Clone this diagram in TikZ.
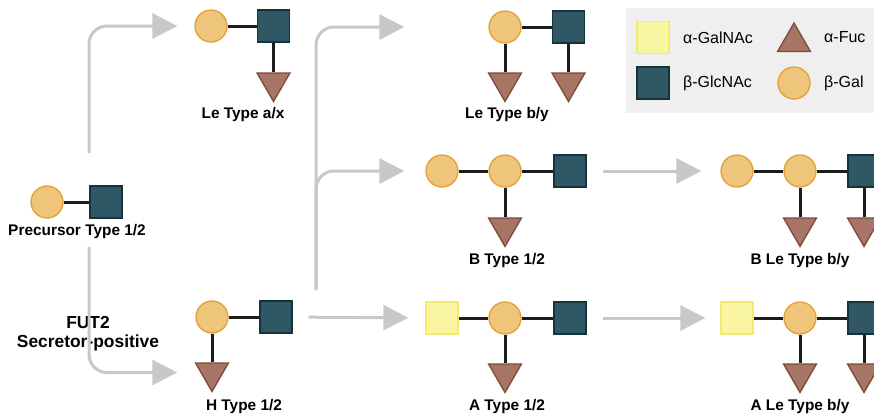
\documentclass[tikz,border=0pt]{standalone}
\usepackage{fontspec}
\setmainfont{Liberation Sans}
\usetikzlibrary{shapes.geometric,arrows.meta}
\definecolor{galfill}{HTML}{EEC57A}
\definecolor{galdraw}{HTML}{E2A036}
\definecolor{glcfill}{HTML}{2F5764}
\definecolor{glcdraw}{HTML}{16323B}
\definecolor{fucfill}{HTML}{A67565}
\definecolor{fucdraw}{HTML}{7E4A3A}
\definecolor{nacfill}{HTML}{F9F5A0}
\definecolor{nacdraw}{HTML}{F2EC6A}
\definecolor{arrgray}{HTML}{C8C8C8}
\definecolor{linkc}{HTML}{1C1C1C}
\definecolor{legbg}{HTML}{EFEFEF}
\tikzset{
  gal/.style={circle, minimum size=32pt, inner sep=0pt, fill=galfill, draw=galdraw, line width=1.3pt},
  glc/.style={rectangle, minimum size=32pt, inner sep=0pt, fill=glcfill, draw=glcdraw, line width=1.3pt},
  nac/.style={rectangle, minimum size=32pt, inner sep=0pt, fill=nacfill, draw=nacdraw, line width=1.3pt},
  fuc/.style={regular polygon, regular polygon sides=3, regular polygon rotate=180, minimum size=38pt, inner sep=0pt, fill=fucfill, draw=fucdraw, line width=1.3pt},
  fucup/.style={fuc, regular polygon rotate=0},
  link/.style={draw=linkc, line width=3pt},
  lbl/.style={font=\fontsize{15.4}{18}\selectfont\bfseries, inner sep=0pt},
  legtxt/.style={font=\fontsize{16}{19}\selectfont, anchor=west, inner sep=0pt},
  garrow/.style={draw=arrgray, line width=3pt, -{Triangle[length=25pt,width=25pt]}, rounded corners=18pt},
}
\begin{document}
\begin{tikzpicture}[x=1pt, y=-1pt]
\clip (0,0) rectangle (874,416);
\fill[white] (0,0) rectangle (874,416);
% legend
\fill[legbg] (626,8) rectangle (880,113);
\node[nac] (lgy) at (653,37.5) {};
\node[legtxt] (lgyt) at (683,37.5) {α-GalNAc};
\node[fucup] (lgf) at (794,42) {};
\node[legtxt] (lgft) at (824,37.5) {α-Fuc};
\node[glc] (lgs) at (653,83) {};
\node[legtxt] (lgst) at (683,83) {β-GlcNAc};
\node[gal] (lgc) at (794,83) {};
\node[legtxt] (lgct) at (824,83) {β-Gal};

% Precursor
\node[gal] (pc) at (47,202) {};
\node[glc] (ps) at (106,202) {};
\node[lbl] (pl) at (77,232) {Precursor Type 1/2};
\draw[link] (pc) -- (ps);

% Le a/x
\node[gal] (lac) at (211,26) {};
\node[glc] (las) at (273.5,26) {};
\node[fuc] (lat) at (273.5,82.5) {};
\node[lbl] (lal) at (243,115) {Le Type a/x};
\draw[link] (lac) -- (las);
\draw[link] (las) -- (lat);

% H
\node[gal] (hc) at (212,317) {};
\node[glc] (hs) at (276,317) {};
\node[fuc] (ht) at (212,372.5) {};
\node[lbl] (hl) at (244,407) {H Type 1/2};
\draw[link] (hc) -- (hs);
\draw[link] (hc) -- (ht);

% Le b/y
\node[gal] (lbc) at (505,27) {};
\node[glc] (lbs) at (568.5,27) {};
\node[fuc] (lbt1) at (505,82.5) {};
\node[fuc] (lbt2) at (568.5,82.5) {};
\node[lbl] (lbl) at (507,115) {Le Type b/y};
\draw[link] (lbc) -- (lbs);
\draw[link] (lbc) -- (lbt1);
\draw[link] (lbs) -- (lbt2);

% B
\node[gal] (bc1) at (442,171) {};
\node[gal] (bc2) at (505,171) {};
\node[glc] (bs) at (570,171) {};
\node[fuc] (bt) at (505,227.5) {};
\node[lbl] (bl) at (507,261) {B Type 1/2};
\draw[link] (bc1) -- (bc2);
\draw[link] (bc2) -- (bs);
\draw[link] (bc2) -- (bt);

% B Le
\node[gal] (blc1) at (737,171) {};
\node[gal] (blc2) at (800,171) {};
\node[glc] (bls) at (864,171) {};
\node[fuc] (blt1) at (800,227.5) {};
\node[fuc] (blt2) at (864,227.5) {};
\node[lbl] (bll) at (800,261) {B Le Type b/y};
\draw[link] (blc1) -- (blc2);
\draw[link] (blc2) -- (bls);
\draw[link] (blc2) -- (blt1);
\draw[link] (bls) -- (blt2);

% A
\node[nac] (ay) at (442,318) {};
\node[gal] (ac) at (505,318) {};
\node[glc] (as) at (570,318) {};
\node[fuc] (at) at (505,373.5) {};
\node[lbl] (al) at (507,407) {A Type 1/2};
\draw[link] (ay) -- (ac);
\draw[link] (ac) -- (as);
\draw[link] (ac) -- (at);

% A Le
\node[nac] (aly) at (737,318) {};
\node[gal] (alc) at (800,318) {};
\node[glc] (als) at (864,318) {};
\node[fuc] (alt1) at (800,373.5) {};
\node[fuc] (alt2) at (864,373.5) {};
\node[lbl] (all) at (800,407) {A Le Type b/y};
\draw[link] (aly) -- (alc);
\draw[link] (alc) -- (als);
\draw[link] (alc) -- (alt1);
\draw[link] (als) -- (alt2);

% FUT2 label
\node[font=\fontsize{17.4}{19}\selectfont\bfseries, align=center, inner sep=0pt] (fut) at (88,334) {FUT2\\Secretor-positive};

% gray arrows
\coordinate (ptop) at (89,153);
\coordinate (pbot) at (89,247);
\coordinate (hbr) at (316,290);
\draw[garrow, shorten >=17pt] (ptop) |- (lac);
\draw[garrow, shorten >=23pt] (pbot) |- (ht);
\draw[garrow, shorten >=84pt] (hbr) |- (lbc);
\draw[garrow, shorten >=21pt] (hbr) |- (bc1);
\draw[garrow, shorten <=16pt, shorten >=17pt] (hs) -- (ay);
\draw[garrow, shorten <=16pt, shorten >=19pt] (bs) -- (blc1);
\draw[garrow, shorten <=16pt, shorten >=15pt] (as) -- (aly);
\end{tikzpicture}
\end{document}
